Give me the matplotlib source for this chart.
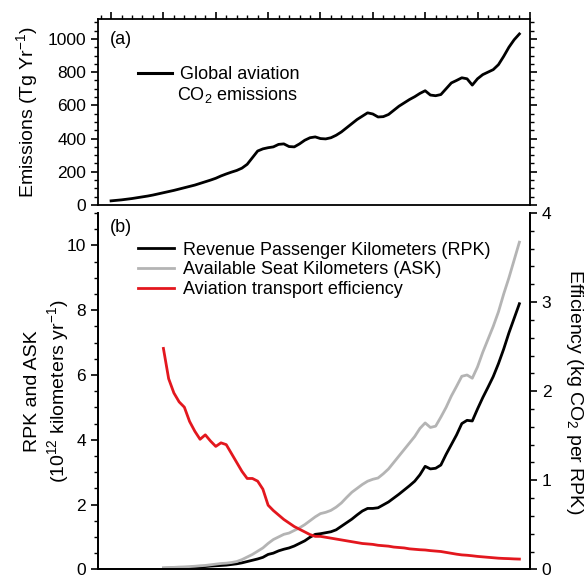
import matplotlib
matplotlib.use('Agg') # sem display
import matplotlib.pyplot as plt
from matplotlib.ticker import MultipleLocator
from matplotlib.lines import Line2D

# fontes parecidas com Helvetica
plt.rcParams['font.family'] = ['Liberation Sans', 'DejaVu Sans']
plt.rcParams['mathtext.fontset'] = 'custom'
plt.rcParams['mathtext.rm'] = 'Liberation Sans'
plt.rcParams['mathtext.default'] = 'regular'

# dados
anos_emissoes = list(range(1940, 2019))
emissoes = [25, 28, 31, 35, 39, 44, 49, 54, 60, 67,
            74, 81, 88, 96, 104, 112, 120, 130, 140, 150,
            161, 175, 187, 198, 208, 222, 245, 285, 325, 338,
            345, 350, 365, 368, 352, 350, 368, 390, 405, 410,
            400, 398, 405, 420, 440, 465, 490, 515, 535, 555,
            548, 530, 532, 545, 570, 595, 615, 635, 652, 672,
            688, 662, 658, 665, 700, 735, 750, 766, 760, 722,
            760, 785, 800, 815, 845, 895, 950, 995, 1030]

anos_trafego = list(range(1950, 2019))
rpk = [0.03, 0.035, 0.04, 0.045, 0.05, 0.06, 0.07, 0.08, 0.085, 0.10,
       0.11, 0.12, 0.13, 0.15, 0.17, 0.20, 0.24, 0.28, 0.32, 0.37,
       0.46, 0.50, 0.57, 0.62, 0.66, 0.72, 0.80, 0.88, 0.99, 1.08,
       1.10, 1.13, 1.16, 1.22, 1.33, 1.44, 1.55, 1.68, 1.80, 1.88,
       1.88, 1.90, 1.99, 2.08, 2.20, 2.32, 2.45, 2.58, 2.72, 2.92,
       3.18, 3.10, 3.12, 3.22, 3.55, 3.85, 4.15, 4.50, 4.60, 4.58,
       4.95, 5.30, 5.62, 5.95, 6.35, 6.80, 7.30, 7.75, 8.20]
ask = [0.05, 0.055, 0.06, 0.07, 0.075, 0.085, 0.095, 0.11, 0.12, 0.14,
       0.16, 0.18, 0.19, 0.21, 0.24, 0.30, 0.38, 0.46, 0.56, 0.66,
       0.80, 0.92, 1.00, 1.08, 1.12, 1.20, 1.28, 1.38, 1.50, 1.62,
       1.72, 1.76, 1.82, 1.92, 2.05, 2.22, 2.38, 2.50, 2.62, 2.72,
       2.78, 2.82, 2.95, 3.10, 3.30, 3.50, 3.70, 3.90, 4.10, 4.35,
       4.52, 4.38, 4.42, 4.70, 5.00, 5.35, 5.65, 5.96, 6.00, 5.90,
       6.25, 6.70, 7.10, 7.50, 7.95, 8.50, 9.00, 9.55, 10.10]
eficiencia = [2.48, 2.14, 1.98, 1.88, 1.82, 1.66, 1.55, 1.46, 1.51, 1.44,
              1.38, 1.42, 1.40, 1.30, 1.20, 1.10, 1.02, 1.02, 0.99, 0.90,
              0.72, 0.66, 0.61, 0.56, 0.52, 0.48, 0.45, 0.42, 0.39, 0.37,
              0.37, 0.36, 0.35, 0.34, 0.33, 0.32, 0.31, 0.30, 0.29, 0.285,
              0.28, 0.27, 0.265, 0.26, 0.25, 0.245, 0.24, 0.23, 0.225, 0.22,
              0.217, 0.21, 0.205, 0.20, 0.19, 0.18, 0.17, 0.162, 0.158, 0.152,
              0.145, 0.14, 0.135, 0.13, 0.125, 0.122, 0.12, 0.117, 0.115]

COR_CINZA = '#b4b4b4'
COR_VERMELHA = '#e3171e'
TAM_TICK = 12.5
TAM_LEGENDA = 13
TAM_ROTULO = 14

fig = plt.figure(figsize=(5.86, 5.77), dpi=100)
ax_a = fig.add_axes([0.1672, 0.6447, 0.737, 0.3224]) # painel de cima
ax_b = fig.add_axes([0.1672, 0.0133, 0.737, 0.6175]) # painel de baixo
ax_e = ax_b.twinx() # eixo da eficiencia

# ---- painel (a) ----
ax_a.plot(anos_emissoes, emissoes, color='black', lw=2)
ax_a.set_xlim(1937.5, 2020)
ax_a.set_ylim(0, 1120)
ax_a.xaxis.set_major_locator(MultipleLocator(10))
ax_a.xaxis.set_minor_locator(MultipleLocator(2))
ax_a.yaxis.set_major_locator(MultipleLocator(200))
ax_a.yaxis.set_minor_locator(MultipleLocator(50))
ax_a.tick_params(axis='x', which='both', top=True, bottom=False,
                 labeltop=False, labelbottom=False, direction='out')
ax_a.tick_params(axis='y', which='both', left=True, right=True,
                 direction='out', labelsize=TAM_TICK)
ax_a.tick_params(which='major', length=5, width=1.2)
ax_a.tick_params(which='minor', length=3, width=1)
ax_a.set_ylabel('Emissions (Tg Yr$^{-1}$)', fontsize=TAM_ROTULO)
ax_a.yaxis.set_label_coords(-0.135, 0.5)
ax_a.text(0.028, 0.89, '(a)', transform=ax_a.transAxes, fontsize=TAM_LEGENDA, va='center')

leg_a = ax_a.legend([Line2D([], [], color='black', lw=2.2)], ['Global aviation'],
                    loc='upper left', bbox_to_anchor=(0.075, 0.785), frameon=False,
                    fontsize=TAM_LEGENDA, handlelength=1.9, handletextpad=0.45,
                    borderaxespad=0)
ax_a.text(0.183, 0.59, 'CO$_2$ emissions', transform=ax_a.transAxes,
          fontsize=TAM_LEGENDA, va='center')

# ---- painel (b) ----
l1, = ax_b.plot(anos_trafego, rpk, color='black', lw=2)
l2, = ax_b.plot(anos_trafego, ask, color=COR_CINZA, lw=2)
l3, = ax_e.plot(anos_trafego, eficiencia, color=COR_VERMELHA, lw=2)

ax_b.set_xlim(1937.5, 2020)
ax_b.set_ylim(0, 11)
ax_e.set_ylim(0, 4)
ax_b.yaxis.set_major_locator(MultipleLocator(2))
ax_b.yaxis.set_minor_locator(MultipleLocator(0.5))
ax_e.yaxis.set_major_locator(MultipleLocator(1))
ax_e.yaxis.set_minor_locator(MultipleLocator(0.2))
ax_b.spines['top'].set_visible(False)
ax_e.spines['top'].set_visible(False)
ax_b.tick_params(axis='x', which='both', bottom=False, labelbottom=False)
ax_b.tick_params(axis='y', which='both', direction='out', labelsize=TAM_TICK)
ax_e.tick_params(axis='y', which='both', direction='out', labelsize=TAM_TICK)
for ax in (ax_b, ax_e):
    ax.tick_params(which='major', length=5, width=1.2)
    ax.tick_params(which='minor', length=3, width=1)

ax_b.set_ylabel('RPK and ASK\n(10$^{12}$ kilometers yr$^{-1}$)', fontsize=TAM_ROTULO,
                linespacing=1.25)
ax_b.yaxis.set_label_coords(-0.062, 0.5)
ax_e.set_ylabel('Efficiency (kg CO$_2$ per RPK)', fontsize=TAM_ROTULO, rotation=270,
                va='bottom')
ax_e.yaxis.set_label_coords(1.08, 0.5)
ax_b.text(0.028, 0.958, '(b)', transform=ax_b.transAxes, fontsize=TAM_LEGENDA, va='center')

ax_e.legend([l1, l2, l3],
            ['Revenue Passenger Kilometers (RPK)', 'Available Seat Kilometers (ASK)',
             'Aviation transport efficiency'],
            loc='upper left', bbox_to_anchor=(0.075, 0.94), frameon=False,
            fontsize=TAM_LEGENDA, handlelength=2.0, handletextpad=0.5, labelspacing=0.15,
            borderaxespad=0)

for ax in (ax_a, ax_b, ax_e):
    for s in ax.spines.values():
        s.set_linewidth(1.3)

fig.savefig('out.png', dpi=100)
